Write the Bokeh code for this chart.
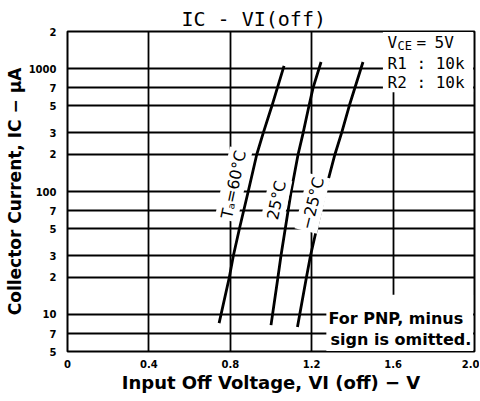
import math
from bokeh.plotting import figure
from bokeh.models import Range1d, FixedTicker, CustomJSTickFormatter, Label, BoxAnnotation
from bokeh.embed import file_html
from bokeh.resources import INLINE

# ---------------- data ----------------
x_ticks = [0.0, 0.4, 0.8, 1.2, 1.6, 2.0]
x_tick_labels = ["0", "0.4", "0.8", "1.2", "1.6", "2.0"]
y_ticks = [5, 7, 10, 20, 30, 50, 70, 100, 200, 300, 500, 700, 1000, 2000]
y_tick_labels = ["5", "7", "10", "2", "3", "5", "7", "100", "2", "3", "5", "7", "1000", "2"]
x_grid = [0.4, 0.8, 1.2, 1.6]
y_grid = [7, 10, 20, 30, 50, 70, 100, 200, 300, 500, 700, 1000]

# Ta = 60 C
v_60 = [0.745, 0.795, 0.815, 0.845, 0.888, 0.930, 0.962, 1.005, 1.064]
ic_60 = [8.5, 20, 30, 50, 100, 200, 300, 500, 1050]
# Ta = 25 C
v_25 = [1.000, 1.034, 1.049, 1.099, 1.133, 1.158, 1.187, 1.207, 1.246]
ic_25 = [8.2, 20, 30, 100, 200, 300, 500, 700, 1130]
# Ta = -25 C
v_m25 = [1.130, 1.174, 1.194, 1.266, 1.314, 1.347, 1.385, 1.452]
ic_m25 = [7.9, 20, 30, 100, 200, 300, 500, 1130]

curve_labels = ["T\u2090=60\u00b0C", "25\u00b0C", "\u221225\u00b0C"]
title_text = "IC - VI(off)"
x_title = "Input Off Voltage, VI (off) \u2212 V"
y_title = "Collector Current, IC \u2212 \u03bcA"

# ---------------- layout ----------------
BL, BR, BT, BB = 67, 5, 31, 40
W, H = BL + 407 + BR, BT + 324 + BB
FL, FT = BL, BT   # page position of frame's top-left corner

p = figure(width=W, height=H, x_range=Range1d(0, 2.0), y_range=Range1d(5, 2000),
           y_axis_type="log", output_backend="svg", toolbar_location=None,
           title=title_text,
           min_border_left=BL, min_border_right=BR, min_border_top=BT, min_border_bottom=BB)
p.background_fill_color = "white"
p.border_fill_color = "white"
p.outline_line_color = "black"
p.outline_line_width = 2
p.outline_line_alpha = 1

p.title.text_font = "DejaVu Sans Mono"
p.title.text_font_size = "20px"
p.title.text_font_style = "normal"
p.title.text_color = "black"
p.title.align = "left"
p.title.offset = 114
p.title.standoff = 2

fmt_code = """
for (let i = 0; i < tv.length; i++) {
  if (Math.abs(tv[i] - tick) < 1e-6 * Math.max(1, Math.abs(tick))) return tl[i];
}
return '';
"""
p.xaxis.ticker = FixedTicker(ticks=x_ticks)
p.xaxis.formatter = CustomJSTickFormatter(args=dict(tv=x_ticks, tl=x_tick_labels), code=fmt_code)
p.yaxis.ticker = FixedTicker(ticks=y_ticks)
p.yaxis.formatter = CustomJSTickFormatter(args=dict(tv=y_ticks, tl=y_tick_labels), code=fmt_code)
for ax in (p.xaxis, p.yaxis):
    ax.axis_line_color = None
    ax.major_tick_line_color = None
    ax.minor_tick_line_color = None
    ax.major_label_text_font = "DejaVu Sans"
    ax.major_label_text_font_style = "bold"
    ax.major_label_text_font_size = "10px"
    ax.major_label_text_color = "black"
    ax.axis_label_text_font = "DejaVu Sans"
    ax.axis_label_text_font_style = "bold"
    ax.axis_label_text_color = "black"
p.xaxis.major_label_standoff = 2
p.yaxis.major_label_standoff = 5
p.xaxis.axis_label = x_title
p.xaxis.axis_label_text_font_size = "18px"
p.xaxis.axis_label_standoff = 1
p.yaxis.axis_label = y_title
p.yaxis.axis_label_text_font_size = "17px"
p.yaxis.axis_label_standoff = 1

p.xgrid.ticker = FixedTicker(ticks=x_grid)
p.ygrid.ticker = FixedTicker(ticks=y_grid)
for g in (p.xgrid, p.ygrid):
    g.grid_line_color = "black"
    g.grid_line_width = 1.8
    g.grid_line_alpha = 1
p.xgrid.minor_grid_line_color = None
p.ygrid.minor_grid_line_color = None

# curves
for v, ic in ((v_60, ic_60), (v_25, ic_25), (v_m25, ic_m25)):
    p.line(v, ic, line_width=2.8, line_color="black")

# white boxes behind the notes
p.add_layout(BoxAnnotation(left=1.55, right=1.993, bottom=640, top=1985,
                           fill_color="white", fill_alpha=1, line_alpha=0))
p.add_layout(BoxAnnotation(left=1.272, right=1.993, bottom=5.05, top=14.5,
                           fill_color="white", fill_alpha=1, line_alpha=0))

# curve labels
for txt, x, y, ang in ((curve_labels[0], 0.816, 114, 1.36),
                       (curve_labels[1], 1.027, 85, 1.36),
                       (curve_labels[2], 1.204, 80, 1.33)):
    p.add_layout(Label(x=x, y=y, text=txt, angle=ang, text_align="center",
                       text_baseline="middle", text_font="DejaVu Sans",
                       text_font_size="16px", text_color="black",
                       background_fill_color="white", padding=2))


def page_label(text, px, py, size, font="DejaVu Sans", style="normal",
               align="left", baseline="alphabetic", angle=0.0):
    p.add_layout(Label(x=0.0, y=2000, x_offset=px - FL, y_offset=FT - py, text=text,
                       text_font=font, text_font_style=style, text_font_size=f"{size}px",
                       text_align=align, text_baseline=baseline, angle=angle,
                       text_color="black"))


MONO = "DejaVu Sans Mono"
# conditions box
page_label("V", 387, 42, 16, font=MONO)
page_label("CE", 397, 45, 12, font=MONO)
page_label("=", 416, 42, 16, font=MONO)
page_label("5V", 434, 42, 16, font=MONO)
page_label("R1 : 10k", 387, 63, 16, font=MONO)
page_label("R2 : 10k", 387, 82, 16, font=MONO)

# PNP note
page_label("For PNP, minus", 328, 318, 16, style="bold")
page_label("sign is omitted.", 330, 339, 16, style="bold")

open("out.html", "w").write(file_html(p, INLINE))
